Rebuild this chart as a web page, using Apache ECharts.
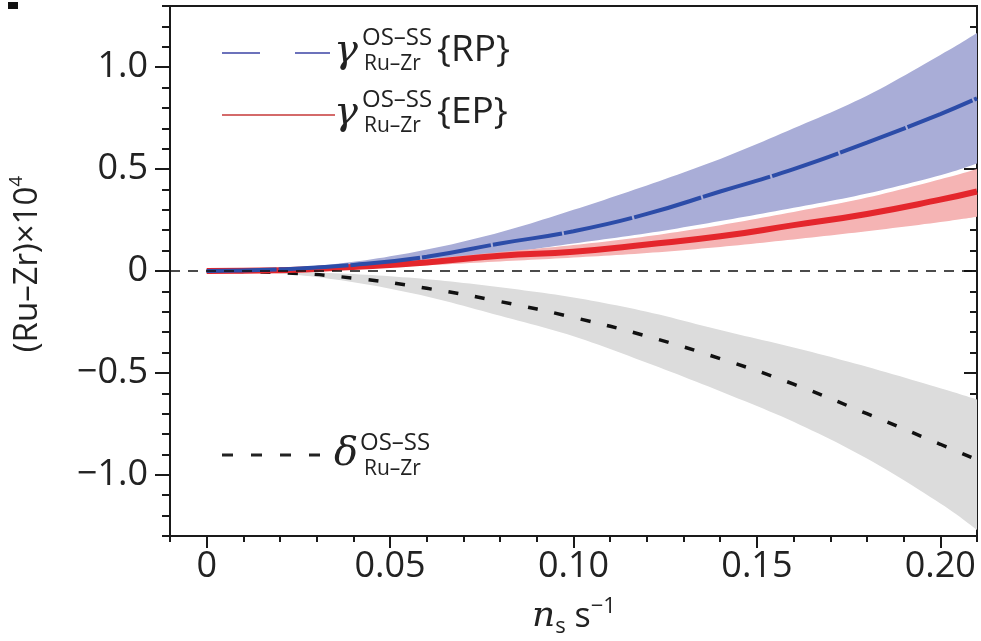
<!DOCTYPE html>
<html>
<head>
<meta charset="utf-8">
<script src="https://cdn.jsdelivr.net/npm/echarts@6/dist/echarts.min.js"></script>
<style>
  html, body { margin: 0; padding: 0; background: #fff; }
  #main { width: 981px; height: 641px; }
</style>
</head>
<body>
<div id="main"></div>
<script>
// x positions (n5 s^-1)
const xs = [0, 0.02, 0.04, 0.06, 0.08, 0.10, 0.12, 0.14, 0.16, 0.18, 0.20, 0.21];
// gamma{RP}: central, upper, lower
const rpMid = [0, 0.008, 0.03, 0.07, 0.135, 0.195, 0.28, 0.39, 0.50, 0.63, 0.77, 0.847];
const rpHi  = [0, 0.012, 0.045, 0.105, 0.19, 0.30, 0.42, 0.55, 0.70, 0.86, 1.06, 1.167];
const rpLo  = [0, 0.005, 0.02, 0.045, 0.085, 0.135, 0.185, 0.245, 0.31, 0.38, 0.47, 0.527];
// gamma{EP}
const epMid = [0, 0.004, 0.02, 0.042, 0.075, 0.095, 0.13, 0.17, 0.225, 0.28, 0.35, 0.39];
const epHi  = [0, 0.006, 0.027, 0.058, 0.093, 0.127, 0.17, 0.225, 0.29, 0.36, 0.45, 0.50];
const epLo  = [0, 0.002, 0.013, 0.028, 0.047, 0.066, 0.088, 0.118, 0.155, 0.195, 0.24, 0.266];
// delta
const dMid = [0, -0.008, -0.035, -0.085, -0.15, -0.228, -0.32, -0.43, -0.555, -0.70, -0.85, -0.926];
const dHi  = [0, -0.003, -0.015, -0.04, -0.08, -0.13, -0.20, -0.29, -0.375, -0.47, -0.575, -0.63];
const dLo  = [0, -0.012, -0.055, -0.125, -0.22, -0.32, -0.45, -0.59, -0.74, -0.92, -1.14, -1.27];

// ticks
const xMajor = [0, 0.05, 0.10, 0.15, 0.20];
const xLabels = ['0', '0.05', '0.10', '0.15', '0.20'];
const yMajor = [-1, -0.5, 0, 0.5, 1];
const yLabels = ['\u22121.0', '\u22120.5', '0', '0.5', '1.0'];
const xMinor = [];
for (let i = -1; i <= 21; i++) xMinor.push(+(i * 0.01).toFixed(2));
const yMinor = [];
for (let i = -13; i <= 13; i++) yMinor.push(+(i * 0.1).toFixed(1));

const pick = (vals, labels) => v => {
  const i = vals.findIndex(m => Math.abs(m - v) < 1e-9);
  return i < 0 ? '' : labels[i];
};
const pairs = arr => xs.map((x, i) => [x, arr[i]]);

// catmull-rom through pixel points, so the band edges are smooth
function spline(pts, steps) {
  const out = [];
  for (let i = 0; i < pts.length - 1; i++) {
    const p0 = pts[Math.max(i - 1, 0)], p1 = pts[i], p2 = pts[i + 1], p3 = pts[Math.min(i + 2, pts.length - 1)];
    for (let s = 0; s < steps; s++) {
      const t = s / steps, t2 = t * t, t3 = t2 * t;
      const f = k => 0.5 * ((2 * p1[k]) + (-p0[k] + p2[k]) * t +
        (2 * p0[k] - 5 * p1[k] + 4 * p2[k] - p3[k]) * t2 + (-p0[k] + 3 * p1[k] - 3 * p2[k] + p3[k]) * t3);
      out.push([f(0), f(1)]);
    }
  }
  out.push(pts[pts.length - 1]);
  return out;
}

function band(lo, hi, color) {
  return {
    type: 'custom', silent: true, z: 1,
    data: [[xs[0], lo[0]]],
    renderItem: (params, api) => {
      const up = spline(xs.map((x, i) => api.coord([x, hi[i]])), 12);
      const dn = spline(xs.map((x, i) => api.coord([x, lo[i]])), 12).reverse();
      return { type: 'polygon', shape: { points: up.concat(dn) }, style: { fill: color } };
    }
  };
}

const ink = '#1a1a1a';
const labelFont = { fontSize: 36, fontFamily: 'Open Sans', color: '#222' };
const plainAxis = { splitLine: { show: false } };

const chart = echarts.init(document.getElementById('main'));
const option = {
  animation: false,
  grid: { left: 170, right: 4, top: 6, bottom: 105, show: true, borderColor: ink, borderWidth: 2 },
  xAxis: [
    Object.assign({ type: 'value', min: -0.01, max: 0.21, position: 'bottom',
      axisLine: { onZero: false, lineStyle: { color: ink, width: 2 } },
      axisTick: { customValues: xMajor, length: 12, lineStyle: { color: ink, width: 2 } },
      axisLabel: Object.assign({ customValues: xMajor, formatter: pick(xMajor, xLabels), margin: 13 }, labelFont)
    }, plainAxis),
    Object.assign({ type: 'value', min: -0.01, max: 0.21, position: 'bottom',
      axisLine: { show: false, onZero: false },
      axisTick: { customValues: xMinor, length: 6, lineStyle: { color: ink, width: 2 } },
      axisLabel: { show: false }
    }, plainAxis)
  ],
  yAxis: [
    Object.assign({ type: 'value', min: -1.3, max: 1.3, position: 'left',
      axisLine: { onZero: false, lineStyle: { color: ink, width: 2 } },
      axisTick: { customValues: yMajor, length: 15, lineStyle: { color: ink, width: 2 } },
      axisLabel: Object.assign({ customValues: yMajor, formatter: pick(yMajor, yLabels), margin: 22 }, labelFont)
    }, plainAxis),
    Object.assign({ type: 'value', min: -1.3, max: 1.3, position: 'left',
      axisLine: { show: false, onZero: false },
      axisTick: { customValues: yMinor, length: 8, lineStyle: { color: ink, width: 2 } },
      axisLabel: { show: false }
    }, plainAxis),
    Object.assign({ type: 'value', min: -1.3, max: 1.3, position: 'right',
      axisLine: { onZero: false, lineStyle: { color: ink, width: 2 } },
      axisTick: { inside: true, customValues: yMajor, length: 13, lineStyle: { color: ink, width: 2 } },
      axisLabel: { show: false }
    }, plainAxis),
    Object.assign({ type: 'value', min: -1.3, max: 1.3, position: 'right',
      axisLine: { show: false, onZero: false },
      axisTick: { inside: true, customValues: yMinor, length: 7, lineStyle: { color: ink, width: 2 } },
      axisLabel: { show: false }
    }, plainAxis)
  ],
  series: [
    band(rpLo, rpHi, '#a9add7'),
    band(epLo, epHi, '#f5b4b4'),
    band(dLo, dHi, '#dcdcdc'),
    { name: 'delta', type: 'line', smooth: true, data: pairs(dMid), showSymbol: false, z: 3,
      lineStyle: { color: '#111', width: 3.5, type: [10, 17] },
      markLine: { silent: true, symbol: 'none', label: { show: false },
        lineStyle: { color: '#111', width: 1.6, type: [10, 8] },
        data: [{ yAxis: 0 }] } },
    { name: 'EP', type: 'line', smooth: true, data: pairs(epMid), showSymbol: false, z: 3,
      lineStyle: { color: '#e4262c', width: 6 } },
    { name: 'RP', type: 'line', smooth: true, data: pairs(rpMid), showSymbol: false, z: 4,
      lineStyle: { color: '#2c4ca8', width: 4, type: [70, 2] } }
  ],
  graphic: [
    { type: 'rect', shape: { x: 8, y: 2, width: 10, height: 7 }, style: { fill: '#111' } },
    // legend: RP
    { type: 'line', shape: { x1: 222, y1: 53, x2: 260, y2: 53 }, style: { stroke: '#6c72bb', lineWidth: 2 } },
    { type: 'line', shape: { x1: 295, y1: 53, x2: 330, y2: 53 }, style: { stroke: '#6c72bb', lineWidth: 2 } },
    { type: 'text', x: 334, y: 52, style: { text: '\u03b3', font: 'italic 40px "DejaVu Serif"', fill: '#222', verticalAlign: 'middle' } },
    { type: 'text', x: 362, y: 38, style: { text: 'OS\u2013SS', font: '24px "Open Sans"', fill: '#222', verticalAlign: 'middle' } },
    { type: 'text', x: 364, y: 64, style: { text: 'Ru\u2013Zr', font: '21px "Open Sans"', fill: '#222', verticalAlign: 'middle' } },
    { type: 'text', x: 437, y: 50, style: { text: '{RP}', font: '37px "Open Sans"', fill: '#222', verticalAlign: 'middle' } },
    // legend: EP
    { type: 'line', shape: { x1: 222, y1: 115, x2: 335, y2: 115 }, style: { stroke: '#d46a6a', lineWidth: 2 } },
    { type: 'text', x: 334, y: 114, style: { text: '\u03b3', font: 'italic 40px "DejaVu Serif"', fill: '#222', verticalAlign: 'middle' } },
    { type: 'text', x: 362, y: 100, style: { text: 'OS\u2013SS', font: '24px "Open Sans"', fill: '#222', verticalAlign: 'middle' } },
    { type: 'text', x: 364, y: 126, style: { text: 'Ru\u2013Zr', font: '21px "Open Sans"', fill: '#222', verticalAlign: 'middle' } },
    { type: 'text', x: 437, y: 112, style: { text: '{EP}', font: '37px "Open Sans"', fill: '#222', verticalAlign: 'middle' } },
    // legend: delta
    { type: 'line', shape: { x1: 222, y1: 455, x2: 332, y2: 455 }, style: { stroke: '#222', lineWidth: 3, lineDash: [11, 18] } },
    { type: 'text', x: 334, y: 455, style: { text: '\u03b4', font: 'italic 40px "DejaVu Serif"', fill: '#222', verticalAlign: 'middle' } },
    { type: 'text', x: 360, y: 443, style: { text: 'OS\u2013SS', font: '24px "Open Sans"', fill: '#222', verticalAlign: 'middle' } },
    { type: 'text', x: 364, y: 469, style: { text: 'Ru\u2013Zr', font: '21px "Open Sans"', fill: '#222', verticalAlign: 'middle' } },
    // axis titles
    { type: 'text', x: 28, y: 264, rotation: Math.PI / 2,
      style: { text: '(Ru\u2013Zr)\u00d710{s|4}', fontSize: 33, fontFamily: 'Open Sans', fill: '#222',
        align: 'center', verticalAlign: 'middle',
        rich: { s: { fontSize: 19, fontFamily: 'Open Sans', fill: '#222', verticalAlign: 'top', lineHeight: 42 } } } },
    { type: 'text', x: 574, y: 617,
      style: { text: '{n|n}{b|s}{t| s}{p|\u22121}', fill: '#222', align: 'center', verticalAlign: 'middle',
        rich: {
          n: { fontSize: 36, fontStyle: 'italic', fontFamily: 'DejaVu Serif', fill: '#222', lineHeight: 42 },
          b: { fontSize: 22, fontFamily: 'Open Sans', fill: '#222', verticalAlign: 'bottom', lineHeight: 42 },
          t: { fontSize: 34, fontFamily: 'Open Sans', fill: '#222', lineHeight: 42 },
          p: { fontSize: 22, fontFamily: 'Open Sans', fill: '#222', verticalAlign: 'top', lineHeight: 42 }
        } } }
  ]
};
chart.setOption(option);
</script>
</body>
</html>
